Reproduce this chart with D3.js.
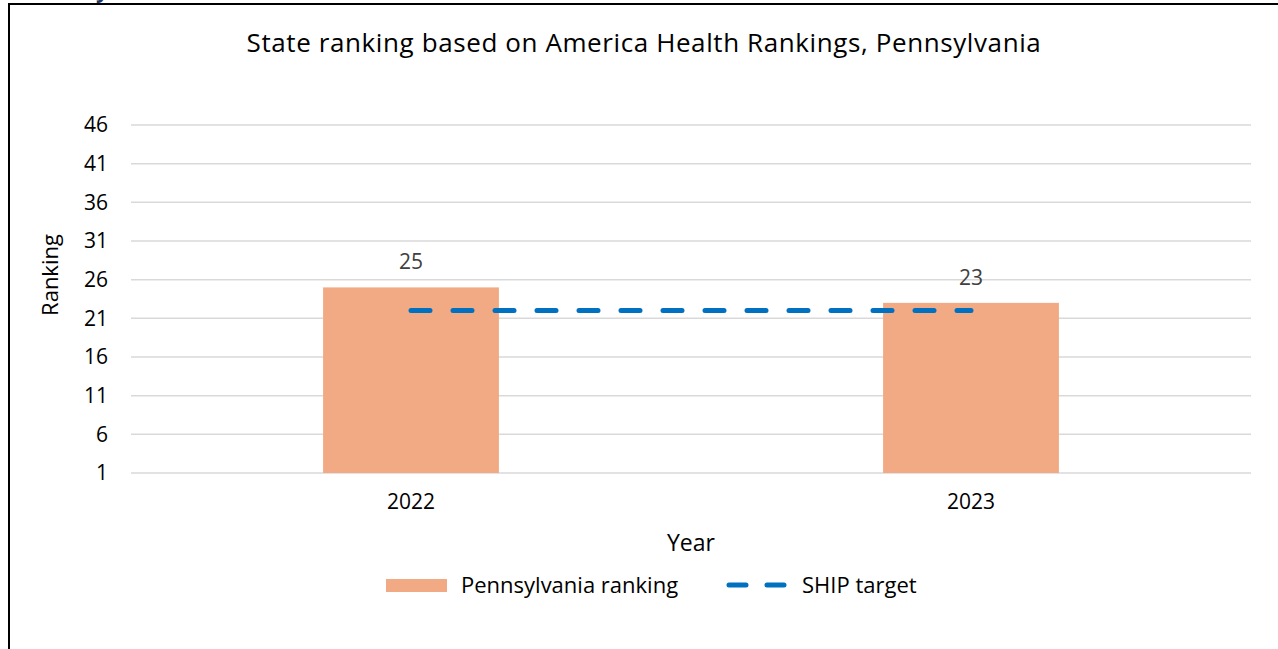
<!DOCTYPE html>
<html>
<head>
<meta charset="utf-8">
<script src="https://cdn.jsdelivr.net/npm/d3@7"></script>
<style>
  body { margin: 0; background: #fff; }
  svg { display: block; font-family: "Open Sans", "Liberation Sans", Arial, sans-serif; }
</style>
</head>
<body>
<div id="chart"></div>
<script>
// data
var years = ["2022", "2023"];
var paRanking = [25, 23];
var shipTarget = [22, 22];
var yTicks = [1, 6, 11, 16, 21, 26, 31, 36, 41, 46];

var W = 1278, H = 649;
var margin = {top: 125, right: 27, bottom: 176, left: 131},
    width = W - margin.left - margin.right,
    height = H - margin.top - margin.bottom;

var svg = d3.select("#chart")
  .append("svg")
    .attr("width", W)
    .attr("height", H);

// frame (right and bottom edges are cut off in the picture)
svg.append("path")
  .attr("d", "M9,649 V4 H1278")
  .attr("fill", "none")
  .attr("stroke", "#000")
  .attr("stroke-width", 2);

// bit of text from above the frame
svg.append("text")
  .attr("x", 96).attr("y", -2)
  .attr("fill", "#1F3864")
  .style("font-size", "22px")
  .style("font-weight", "bold")
  .text("y");

svg.append("text")
  .attr("x", 644).attr("y", 52)
  .attr("text-anchor", "middle")
  .style("font-size", "26px")
  .style("letter-spacing", "0.6px")
  .attr("fill", "#000")
  .text("State ranking based on America Health Rankings, Pennsylvania");

var g = svg.append("g")
  .attr("transform", "translate(" + margin.left + "," + margin.top + ")");

var x = d3.scaleBand()
  .domain(years)
  .range([0, width])
  .paddingInner(0.686)
  .paddingOuter(0.343);

var y = d3.scaleLinear()
  .domain([1, 46])
  .range([height, 0]);

// gridlines
g.append("g")
  .selectAll("line")
  .data(yTicks)
  .enter()
  .append("line")
    .attr("x1", 0).attr("x2", width)
    .attr("y1", function(d) { return y(d); })
    .attr("y2", function(d) { return y(d); })
    .attr("stroke", "#d9d9d9")
    .attr("stroke-width", 1.5);

// y axis
var yAxis = g.append("g")
  .call(d3.axisLeft(y).tickValues(yTicks).tickSize(0).tickPadding(23));
yAxis.select(".domain").remove();
yAxis.selectAll("text")
  .style("font-size", "21px")
  .style("font-family", "'Open Sans', Arial, sans-serif")
  .attr("fill", "#000");

// x axis
var xAxis = g.append("g")
  .attr("transform", "translate(0," + height + ")")
  .call(d3.axisBottom(x).tickSize(0).tickPadding(21));
xAxis.select(".domain").remove();
xAxis.selectAll("text")
  .style("font-size", "21px")
  .style("font-family", "'Open Sans', Arial, sans-serif")
  .attr("fill", "#000");

// bars
g.selectAll(".bar")
  .data(years)
  .enter()
  .append("rect")
    .attr("class", "bar")
    .attr("x", function(d) { return x(d); })
    .attr("y", function(d, i) { return y(paRanking[i]); })
    .attr("width", x.bandwidth())
    .attr("height", function(d, i) { return height - y(paRanking[i]); })
    .attr("fill", "#F2AA84");

// data labels
g.selectAll(".lbl")
  .data(years)
  .enter()
  .append("text")
    .attr("x", function(d) { return x(d) + x.bandwidth() / 2; })
    .attr("y", function(d, i) { return y(paRanking[i]) - 18; })
    .attr("text-anchor", "middle")
    .style("font-size", "21px")
    .attr("fill", "#404040")
    .text(function(d, i) { return paRanking[i]; });

// SHIP target line
var line = d3.line()
  .x(function(d, i) { return x(years[i]) + x.bandwidth() / 2; })
  .y(function(d) { return y(d); });

g.append("path")
  .datum(shipTarget)
  .attr("d", line)
  .attr("fill", "none")
  .attr("stroke", "#0070C0")
  .attr("stroke-width", 5)
  .attr("stroke-linecap", "round")
  .attr("stroke-dasharray", "19,23");

// axis titles
svg.append("text")
  .attr("transform", "translate(58,275) rotate(-90)")
  .attr("text-anchor", "middle")
  .style("font-size", "22px")
  .text("Ranking");

svg.append("text")
  .attr("x", 691).attr("y", 551)
  .attr("text-anchor", "middle")
  .style("font-size", "23px")
  .text("Year");

// legend
var leg = svg.append("g");
leg.append("rect")
  .attr("x", 386).attr("y", 579)
  .attr("width", 61).attr("height", 13)
  .attr("fill", "#F2AA84");
leg.append("text")
  .attr("x", 461).attr("y", 593)
  .style("font-size", "22px")
  .text("Pennsylvania ranking");
leg.append("line")
  .attr("x1", 729).attr("x2", 789)
  .attr("y1", 585).attr("y2", 585)
  .attr("stroke", "#0070C0")
  .attr("stroke-width", 5)
  .attr("stroke-linecap", "round")
  .attr("stroke-dasharray", "17,21");
leg.append("text")
  .attr("x", 802).attr("y", 593)
  .style("font-size", "22px")
  .text("SHIP target");
</script>
</body>
</html>
